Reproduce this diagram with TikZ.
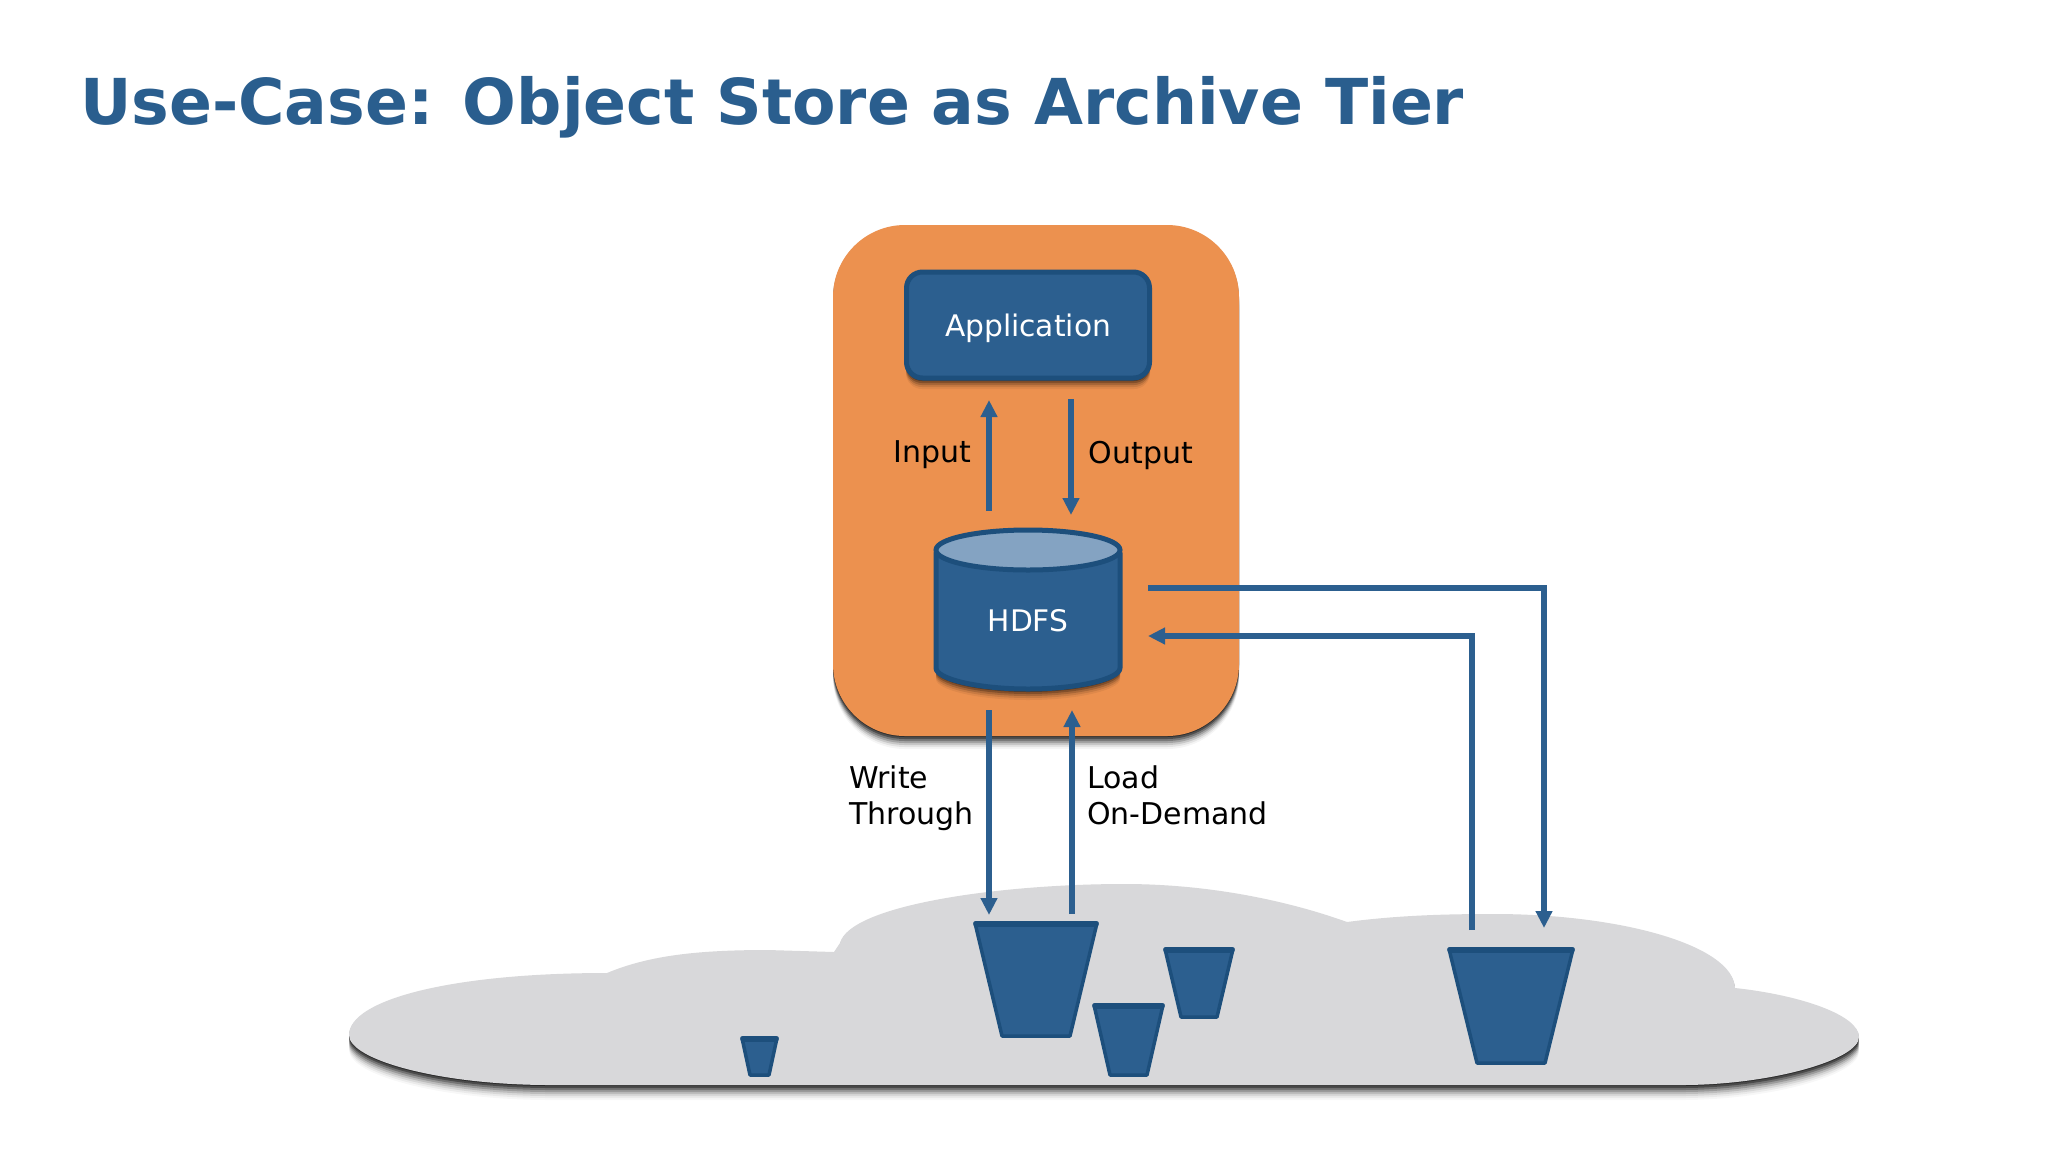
\documentclass[tikz,border=0pt]{standalone}
\usepackage{fontspec}
\setmainfont{DejaVu Sans}
\usetikzlibrary{arrows.meta}
\definecolor{bluefill}{HTML}{2C5F8F}
\definecolor{blueedge}{HTML}{1D4F7C}
\definecolor{bluetop}{HTML}{84A3C2}
\definecolor{orangebox}{HTML}{EC914F}
\definecolor{cloudgrey}{HTML}{D8D8DA}
\definecolor{titleblue}{HTML}{2A5E8E}
\tikzset{
  x=1pt,y=-1pt,
  conn/.style={draw=bluefill,line width=5.5pt,miter limit=10},
  tip/.style={-{Triangle[width=16pt,length=17pt]}},
  label/.style={font=\fontsize{30}{36}\selectfont,text=black,inner sep=0pt},
  inlabel/.style={font=\fontsize{29.7}{36}\selectfont,text=white,inner sep=0pt},
  bucketbody/.style={fill=bluefill,draw=blueedge,line width=3.5pt,line join=round},
  bucketrim/.style={draw=blueedge,line width=5.5pt,line cap=round}
}
\newcommand{\softshadow}[2][]{%
  \foreach \d/\o in {#2}{%
    \fill[black,opacity=\o,shift={(0,\d)}] \shapepath;
  }}
\newcommand{\bucketshape}[8]{%
  \draw[bucketbody] (#1,#3) -- (#2,#3) -- (#6,#4) -- (#5,#4) -- cycle;
  \draw[bucketrim] (#1+1,#3+1) -- (#2-1,#3+1);
  \coordinate (#7) at (#1,#3);
  \coordinate (#8) at (#2,#4);
}
\begin{document}
\begin{tikzpicture}
\useasboundingbox (0,0) rectangle (2048,1152);
\fill[white] (0,0) rectangle (2048,1152);
\node[anchor=west,inner sep=0pt,text=titleblue,font=\bfseries\fontsize{63.3}{70}\selectfont] (title) at (80,107) {Use-Case: Object Store as Archive Tier};
% cloud
\def\shapepath{(349,1035) .. controls (349,1000) and (450,973) .. (607,973) .. controls (650,955) and (700,950) .. (768,950) -- (834,952) -- (840,943) .. controls (850,905) and (1000,884) .. (1124,884) .. controls (1220,884) and (1300,905) .. (1347,922) .. controls (1400,915) and (1450,914) .. (1494,914) .. controls (1620,914) and (1733,945) .. (1735,988) .. controls (1800,995) and (1859,1015) .. (1859,1037) .. controls (1859,1060) and (1770,1085) .. (1682,1085) -- (550,1085) .. controls (440,1085) and (349,1060) .. (349,1035) -- cycle}
\softshadow{15/.03,13/.05,11/.08,9/.12,7/.18,5/.25,3/.35,1/.4}
\fill[cloudgrey] \shapepath;
% orange box
\def\shapepath{[rounded corners=72pt] (833,225) rectangle (1239,736)}
\softshadow{13/.04,11/.07,9/.12,7/.18,5/.25,3/.35,1/.4}
\fill[orangebox] \shapepath;
% application
\def\shapepath{[rounded corners=16pt] (906,271) rectangle (1150,378)}
\softshadow{11/.06,9/.1,7/.16,5/.22,3/.3}
\node[draw=blueedge,fill=bluefill,line width=5pt,rounded corners=16pt,minimum width=243pt,minimum height=106pt,inner sep=0pt] (app) at (1028,325) {};
\node[inlabel] (applabel) at (app.center) [yshift=-3pt] {Application};
% hdfs
\def\shapepath{(936,553) -- (936,668) .. controls (936,679) and (978,689) .. (1028,689) .. controls (1078,689) and (1120,679) .. (1120,668) -- (1120,553) -- cycle}
\softshadow{11/.06,9/.1,7/.16,5/.22,3/.3}
\draw[fill=bluefill,draw=blueedge,line width=5pt,line join=round] \shapepath;
\draw[fill=bluetop,draw=blueedge,line width=5pt] (1028,550) ellipse [x radius=92pt,y radius=20pt];
\node[inlabel] (hdfs) at (1028,621) {HDFS};
% buckets
\bucketshape{975}{1097}{923}{1036}{1002}{1070}{b1a}{b1b}
\bucketshape{1094}{1163}{1005}{1075}{1110}{1147}{b2a}{b2b}
\bucketshape{1165}{1233}{949}{1017}{1181}{1217}{b3a}{b3b}
\bucketshape{742}{777}{1038}{1075}{750}{769}{b4a}{b4b}
\bucketshape{1449}{1573}{949}{1063}{1477}{1545}{b5a}{b5b}
% connector ends
\coordinate (inA) at (989,511);   \coordinate (inB) at (989,400);
\coordinate (outA) at (1071,399); \coordinate (outB) at (1071,515);
\coordinate (wtA) at (989,710);   \coordinate (wtB) at (989,915);
\coordinate (ldA) at (1072,914);  \coordinate (ldB) at (1072,710);
\coordinate (arA) at (1148,588);  \coordinate (arM) at (1544,588); \coordinate (arB) at (1544,928);
\coordinate (rtA) at (1472,930);  \coordinate (rtM) at (1472,636); \coordinate (rtB) at (1148,636);
\draw[conn,tip] (inA) -- (inB);
\draw[conn,tip] (outA) -- (outB);
\draw[conn,tip] (wtA) -- (wtB);
\draw[conn,tip] (ldA) -- (ldB);
\draw[conn,tip] (arA) -- (arM) -- (arB);
\draw[conn,tip] (rtA) -- (rtM) -- (rtB);
% labels
\node[label] (input) at (932,455) {Input};
\node[label] (output) at (1141,455) {Output};
\node[label,anchor=base west] (write) at (849,788) {Write};
\node[label,anchor=base west] (through) at (849,824) {Through};
\node[label,anchor=base west] (load) at (1087,788) {Load};
\node[label,anchor=base west] (ondemand) at (1087,824) {On-Demand};
\end{tikzpicture}
\end{document}
